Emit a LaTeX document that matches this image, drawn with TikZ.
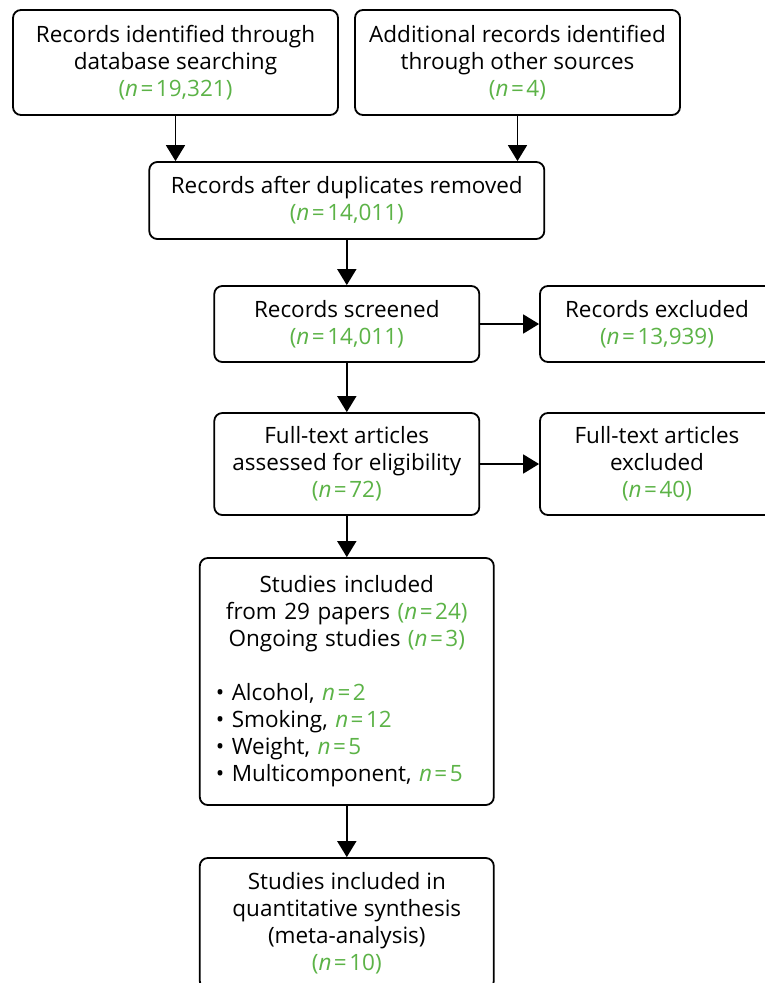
\documentclass[tikz,border=0pt]{standalone}
\usepackage{fontspec}
\setmainfont{Open Sans}
\usetikzlibrary{arrows.meta}
\definecolor{grn}{RGB}{92,179,71}
\newcommand{\gn}[1]{\textcolor{grn}{#1}}
\newcommand{\nn}{\textit{n}\kern2.5pt=\kern2.5pt}
\newcommand{\bul}{\textbullet\ }
\tikzset{
  box/.style={draw=black, line width=1.8pt, rounded corners=8pt, fill=white,
    align=center, inner sep=0pt,
    font=\fontsize{22.5}{27}\selectfont},
  conn/.style={line width=1.8pt, -{Triangle[length=16pt,width=19pt]}}
}
\begin{document}
\begin{tikzpicture}[x=1pt,y=-1pt]
\useasboundingbox (0,0) rectangle (765,983);
\clip (0,0) rectangle (765,983);
\node[box, minimum width=325, minimum height=105] (b1) at (175.5,62.5)
  {Records identified through\\database searching\\\gn{(\nn19,321)}};
\node[box, minimum width=325, minimum height=105] (b2) at (517.5,62.5)
  {Additional records identified\\through other sources\\\gn{(\nn4)}};
\node[box, minimum width=395, minimum height=77] (b3) at (346.8,200.5)
  {Records after duplicates removed\\\gn{(\nn14,011)}};
\node[box, minimum width=265, minimum height=76] (b4) at (346.8,324)
  {Records screened\\\gn{(\nn14,011)}};
\node[box, minimum width=234, minimum height=76] (b5) at (657,324)
  {Records excluded\\\gn{(\nn13,939)}};
\node[box, minimum width=265, minimum height=102] (b6) at (346.8,464)
  {Full-text articles\\assessed for eligibility\\\gn{(\nn72)}};
\node[box, minimum width=234, minimum height=102] (b7) at (657,464)
  {Full-text articles\\excluded\\\gn{(\nn40)}};
\node[box, minimum width=294, minimum height=247, text width=262, align=left] (b8) at (346.8,681.5)
  {\centering Studies included\par from 29 papers \gn{(\nn24)}\par Ongoing studies \gn{(\nn3)}\par\mbox{}\par
   \raggedright\bul Alcohol, \gn{\nn2}\par
   \bul Smoking, \gn{\nn12}\par
   \bul Weight, \gn{\nn5}\par
   \bul Multicomponent, \gn{\nn5}\par};
\node[box, minimum width=294, minimum height=131] (b9) at (346.8,923.5)
  {Studies included in\\quantitative synthesis\\(meta-analysis)\\\gn{(\nn10)}};
\draw[conn] (b1.south) -- (b1.south |- b3.north);
\draw[conn] (b2.south) -- (b2.south |- b3.north);
\draw[conn] (b3.south) -- (b4.north);
\draw[conn] (b4.east) -- (b5.west);
\draw[conn] (b4.south) -- (b6.north);
\draw[conn] (b6.east) -- (b7.west);
\draw[conn] (b6.south) -- (b8.north);
\draw[conn] (b8.south) -- (b9.north);
\end{tikzpicture}
\end{document}
